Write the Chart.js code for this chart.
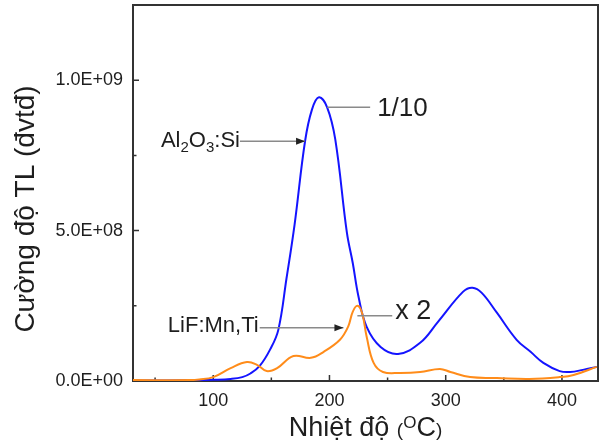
<!DOCTYPE html>
<html>
<head>
<meta charset="utf-8">
<script src="https://cdn.jsdelivr.net/npm/chart.js@4"></script>
<style>
  body { margin: 0; background: #fff; }
</style>
</head>
<body>
<canvas id="tlChart" width="600" height="444"></canvas>
<script>
// Al2O3:Si glow curve (shown 1/10)
const alTemp = [31, 60, 89, 100, 115, 125, 132, 140, 149, 156, 163, 170, 179, 185, 191, 198, 205, 215, 220, 225, 232, 244, 259, 278, 293, 315, 323, 331, 344, 361, 373, 384, 398, 407, 418, 430];
const alTL = [2e6, 2e6, 3e6, 4e6, 7e6, 1.3e7, 2.5e7, 5.0e7, 1.05e8, 1.7e8, 3.4e8, 5.2e8, 7.97e8, 9.03e8, 9.43e8, 9.1e8, 8.03e8, 4.93e8, 3.93e8, 2.8e8, 1.8e8, 1.13e8, 9.0e7, 1.27e8, 1.95e8, 2.97e8, 3.1e8, 2.93e8, 2.27e8, 1.37e8, 9.7e7, 6.0e7, 3.3e7, 3.0e7, 3.7e7, 4.7e7];

// LiF:Mn,Ti glow curve (shown x 2)
const lifTemp = [31, 80, 88, 100, 115, 129, 138, 146, 155, 169, 184, 195, 209, 216, 220, 224, 228, 232, 238, 246, 261, 278, 295, 304, 321, 344, 372, 398, 410, 430];
const lifTL = [3e6, 3e6, 5e6, 1.3e7, 4.3e7, 6.3e7, 5.3e7, 3.3e7, 4.3e7, 8.3e7, 7.7e7, 9.7e7, 1.37e8, 1.8e8, 2.3e8, 2.5e8, 2.27e8, 1.47e8, 6.0e7, 3.0e7, 2.7e7, 3.0e7, 4.0e7, 3.0e7, 1.3e7, 1.0e7, 7e6, 1.3e7, 2.0e7, 4.7e7];

const xTicks = [100, 200, 300, 400];
const xMinor = [50, 150, 250, 350];
const yTickValues = [0, 5e8, 1e9];
const yTickLabels = ['0.0E+00', '5.0E+08', '1.0E+09'];
const yMinor = [2.5e8, 7.5e8];

const FONT = '"Liberation Sans", Arial, sans-serif';
const TXT = '#1e1e1e';

function toPoints(xs, ys) {
  return xs.map((x, i) => ({ x: x, y: ys[i] }));
}

// draw text pieces one after another, each with its own size / baseline shift
function drawPieces(ctx, pieces, x, y) {
  pieces.forEach(p => {
    ctx.font = p.size + 'px ' + FONT;
    ctx.fillText(p.t, x, y + (p.dy || 0));
    x += ctx.measureText(p.t).width;
  });
}
function piecesWidth(ctx, pieces) {
  let w = 0;
  pieces.forEach(p => {
    ctx.font = p.size + 'px ' + FONT;
    w += ctx.measureText(p.t).width;
  });
  return w;
}

function arrow(ctx, x1, x2, y, head) {
  ctx.strokeStyle = '#8a8a8a';
  ctx.lineWidth = 1.5;
  ctx.beginPath();
  ctx.moveTo(x1, y);
  ctx.lineTo(x2, y);
  ctx.stroke();
  if (head) {
    ctx.fillStyle = '#222';
    ctx.beginPath();
    ctx.moveTo(x2, y);
    ctx.lineTo(x2 - 9, y - 3.5);
    ctx.lineTo(x2 - 9, y + 3.5);
    ctx.closePath();
    ctx.fill();
  }
}

const decor = {
  id: 'decor',
  beforeDatasetsDraw(chart) {
    const ctx = chart.ctx;
    const a = chart.chartArea;
    const xs = chart.scales.x, ys = chart.scales.y;
    ctx.save();
    ctx.strokeStyle = '#333';
    ctx.lineWidth = 2;
    ctx.strokeRect(a.left, a.top, a.right - a.left, a.bottom - a.top);
    ctx.lineWidth = 1.5;
    ctx.beginPath();
    xTicks.forEach(v => { const p = xs.getPixelForValue(v); ctx.moveTo(p, a.bottom); ctx.lineTo(p, a.bottom - 6); });
    xMinor.forEach(v => { const p = xs.getPixelForValue(v); if (p > a.left) { ctx.moveTo(p, a.bottom); ctx.lineTo(p, a.bottom - 3.5); } });
    yTickValues.forEach(v => { const p = ys.getPixelForValue(v); ctx.moveTo(a.left, p); ctx.lineTo(a.left + 6, p); });
    yMinor.forEach(v => { const p = ys.getPixelForValue(v); ctx.moveTo(a.left, p); ctx.lineTo(a.left + 3.5, p); });
    ctx.stroke();
    ctx.restore();
  },
  afterDraw(chart) {
    const ctx = chart.ctx;
    const a = chart.chartArea;
    const xs = chart.scales.x, ys = chart.scales.y;
    const px = v => xs.getPixelForValue(v);
    const py = v => ys.getPixelForValue(v);
    ctx.save();
    ctx.fillStyle = TXT;
    ctx.textBaseline = 'alphabetic';
    ctx.textAlign = 'left';

    // 1/10 leader
    let y = py(9.1e8);
    arrow(ctx, px(198), px(235), y, false);
    ctx.fillStyle = TXT;
    drawPieces(ctx, [{ t: '1/10', size: 26 }], px(241), y + 9);

    // Al2O3:Si arrow
    y = py(7.97e8);
    const alText = [{ t: 'Al', size: 22 }, { t: '2', size: 15, dy: 5 }, { t: 'O', size: 22 }, { t: '3', size: 15, dy: 5 }, { t: ':Si', size: 22 }];
    const alEnd = px(123);
    arrow(ctx, alEnd, px(179), y, true);
    ctx.fillStyle = TXT;
    drawPieces(ctx, alText, alEnd - piecesWidth(ctx, alText), y + 6);

    // LiF:Mn,Ti arrow
    y = py(1.77e8);
    const lifText = [{ t: 'LiF:Mn,Ti', size: 22 }];
    const lifEnd = px(140);
    arrow(ctx, lifEnd, px(212), y, true);
    ctx.fillStyle = TXT;
    drawPieces(ctx, lifText, lifEnd - piecesWidth(ctx, lifText) - 1, y + 4);

    // x 2 leader
    y = py(2.17e8);
    arrow(ctx, px(224), px(254), y, false);
    ctx.fillStyle = TXT;
    drawPieces(ctx, [{ t: 'x 2', size: 27 }], px(256.5), y + 3);

    // x axis title with superscript
    const xt = [{ t: 'Nhiệt độ ', size: 27 }, { t: '(', size: 19 }, { t: 'O', size: 17, dy: -8 }, { t: 'C', size: 27 }, { t: ')', size: 19 }];
    const w = piecesWidth(ctx, xt);
    drawPieces(ctx, xt, (a.left + a.right) / 2 - w / 2, 436);

    // y axis title
    ctx.translate(34, 209);
    ctx.rotate(-Math.PI / 2);
    ctx.font = '28px ' + FONT;
    ctx.textAlign = 'center';
    ctx.fillText('Cường độ TL (đvtđ)', 0, 0);
    ctx.restore();
  }
};

new Chart(document.getElementById('tlChart').getContext('2d'), {
  type: 'line',
  data: {
    datasets: [
      {
        label: 'LiF:Mn,Ti',
        data: toPoints(lifTemp, lifTL),
        borderColor: '#ff8c1a',
        borderWidth: 2,
        pointRadius: 0,
        fill: false,
        tension: 0.4
      },
      {
        label: 'Al2O3:Si',
        data: toPoints(alTemp, alTL),
        borderColor: '#1414ff',
        borderWidth: 2,
        pointRadius: 0,
        fill: false,
        tension: 0.4
      }
    ]
  },
  options: {
    responsive: false,
    animation: false,
    devicePixelRatio: 1,
    layout: { autoPadding: false, padding: { top: 5, right: 2, left: 0, bottom: 0 } },
    plugins: { legend: { display: false }, tooltip: { enabled: false } },
    scales: {
      x: {
        type: 'linear',
        min: 31,
        max: 431,
        grid: { display: false, drawTicks: false },
        border: { display: false },
        afterBuildTicks: s => { s.ticks = xTicks.map(v => ({ value: v })); },
        afterFit: s => { s.height = 63; s.paddingLeft = 0; s.paddingRight = 0; },
        ticks: { color: TXT, font: { family: FONT, size: 18 }, padding: 9, maxRotation: 0 }
      },
      y: {
        type: 'linear',
        min: 0,
        max: 1.25e9,
        grid: { display: false, drawTicks: false },
        border: { display: false },
        afterBuildTicks: s => { s.ticks = yTickValues.map(v => ({ value: v })); },
        afterFit: s => { s.width = 133; s.paddingTop = 0; s.paddingBottom = 0; },
        ticks: {
          color: TXT,
          font: { family: FONT, size: 18 },
          padding: 10,
          callback: v => yTickLabels[yTickValues.indexOf(v)]
        }
      }
    }
  },
  plugins: [decor]
});
</script>
</body>
</html>
